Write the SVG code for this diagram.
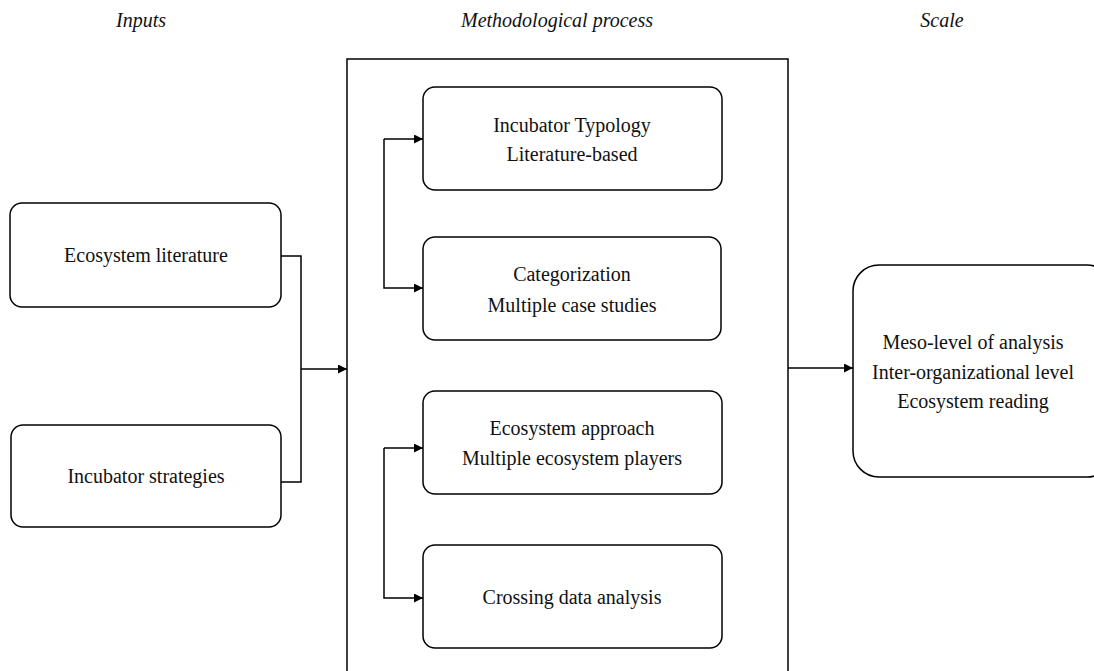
<svg xmlns="http://www.w3.org/2000/svg" width="1094" height="671" viewBox="0 0 1094 671">
<style>
.b{fill:#fff;stroke:#000;stroke-width:1.5}
.t{font-family:"Liberation Serif",serif;font-size:20px;fill:#111;text-anchor:middle}
.h{font-family:"Liberation Serif",serif;font-size:20px;font-style:italic;fill:#111;text-anchor:middle}
.c{fill:none;stroke:#000;stroke-width:1.5}
</style>
<defs>
<marker id="a" viewBox="0 0 10 10" refX="10" refY="5" markerWidth="9" markerHeight="9" markerUnits="userSpaceOnUse" orient="auto"><path d="M0,0L10,5L0,10z" fill="#000"/></marker>
</defs>
<text class="h" x="141" y="27">Inputs</text>
<text class="h" x="557" y="27">Methodological process</text>
<text class="h" x="942" y="27">Scale</text>
<g id="container"><rect class="b" x="347" y="59" width="441" height="620"/></g>
<g id="n1"><rect class="b" x="10" y="203" width="271" height="104" rx="12"/><text class="t" x="146" y="262">Ecosystem literature</text></g>
<g id="n2"><rect class="b" x="11" y="425" width="270" height="102" rx="12"/><text class="t" x="146" y="483">Incubator strategies</text></g>
<g id="n3"><rect class="b" x="423" y="87" width="299" height="103" rx="12"/><text class="t" x="572" y="132">Incubator Typology</text><text class="t" x="572" y="161">Literature-based</text></g>
<g id="n4"><rect class="b" x="423" y="237" width="298" height="103" rx="12"/><text class="t" x="572" y="281">Categorization</text><text class="t" x="572" y="312">Multiple case studies</text></g>
<g id="n5"><rect class="b" x="423" y="391" width="299" height="103" rx="12"/><text class="t" x="572" y="435">Ecosystem approach</text><text class="t" x="572" y="465">Multiple ecosystem players</text></g>
<g id="n6"><rect class="b" x="423" y="545" width="299" height="103" rx="12"/><text class="t" x="572" y="604">Crossing data analysis</text></g>
<g id="n7"><rect class="b" x="853" y="265" width="260" height="212" rx="26"/><text class="t" x="973" y="349">Meso-level of analysis</text><text class="t" x="973" y="379">Inter-organizational level</text><text class="t" x="973" y="408">Ecosystem reading</text></g>
<g id="connectors">
<path class="c" d="M281,256H301V482H281"/>
<path class="c" d="M301,369H347" marker-end="url(#a)"/>
<path class="c" d="M384,139V288H423" marker-end="url(#a)"/>
<path class="c" d="M384,139H423" marker-end="url(#a)"/>
<path class="c" d="M384,448V598H423" marker-end="url(#a)"/>
<path class="c" d="M384,448H423" marker-end="url(#a)"/>
<path class="c" d="M788,368H853" marker-end="url(#a)"/>
</g>
</svg>
